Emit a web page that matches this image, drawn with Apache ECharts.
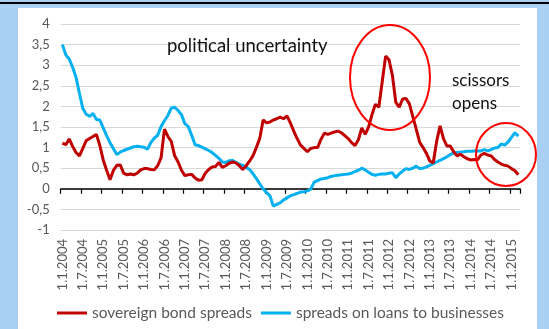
<!DOCTYPE html>
<html>
<head>
<meta charset="utf-8">
<script src="https://cdn.jsdelivr.net/npm/echarts@6/dist/echarts.min.js"></script>
<style>
  html, body { margin: 0; padding: 0; background: #a9d0f2; }
  #chart { width: 549px; height: 329px; }
</style>
</head>
<body>
<div id="chart"></div>
<script>
// Monthly observations, January 2004 – March 2015 (percentage points)
const startYear = 2004;
const monthCount = 135;

const sovereignBondSpreads = [
  1.11, 1.07, 1.21, 1.03, 0.88, 0.80, 0.98, 1.17, 1.22, 1.27, 1.32, 1.05,
  0.70, 0.45, 0.22, 0.45, 0.57, 0.58, 0.38, 0.34, 0.36, 0.34, 0.38, 0.46,
  0.49, 0.49, 0.47, 0.46, 0.56, 0.75, 1.45, 1.27, 1.15, 0.80, 0.65, 0.45,
  0.32, 0.34, 0.35, 0.26, 0.21, 0.22, 0.38, 0.47, 0.53, 0.54, 0.64, 0.52,
  0.56, 0.62, 0.65, 0.63, 0.56, 0.47, 0.56, 0.67, 0.80, 1.00, 1.22, 1.67,
  1.60, 1.62, 1.67, 1.70, 1.74, 1.70, 1.77, 1.60, 1.40, 1.22, 1.06, 0.98,
  0.90, 0.98, 1.00, 1.00, 1.20, 1.35, 1.32, 1.35, 1.38, 1.40, 1.36, 1.29,
  1.22, 1.12, 1.05, 1.19, 1.48, 1.32, 1.50, 1.80, 2.05, 1.98, 2.60, 3.22,
  3.13, 2.75, 2.10, 1.98, 2.18, 2.19, 2.06, 1.75, 1.45, 1.13, 1.00, 0.86,
  0.67, 0.63, 1.15, 1.53, 1.22, 1.04, 1.04, 0.90, 0.80, 0.84, 0.78, 0.73,
  0.70, 0.71, 0.70, 0.82, 0.86, 0.82, 0.80, 0.71, 0.65, 0.60, 0.57, 0.55,
  0.49, 0.44, 0.34
];

const businessLoanSpreads = [
  3.50, 3.25, 3.15, 2.95, 2.71, 2.32, 1.95, 1.81, 1.76, 1.83, 1.68, 1.67,
  1.48, 1.29, 1.12, 0.97, 0.83, 0.89, 0.93, 0.96, 0.99, 1.02, 1.03, 1.02,
  1.01, 0.96, 1.12, 1.23, 1.30, 1.51, 1.65, 1.78, 1.96, 1.98, 1.90, 1.80,
  1.58, 1.51, 1.30, 1.07, 1.05, 1.01, 0.97, 0.93, 0.88, 0.81, 0.74, 0.65,
  0.64, 0.68, 0.69, 0.64, 0.60, 0.57, 0.52, 0.47, 0.37, 0.25, 0.12, 0.00,
  -0.09, -0.17, -0.42, -0.38, -0.34, -0.27, -0.22, -0.17, -0.14, -0.11, -0.08, -0.07,
  -0.05, -0.01, 0.16, 0.20, 0.24, 0.25, 0.27, 0.30, 0.32, 0.33, 0.34, 0.35,
  0.36, 0.38, 0.42, 0.45, 0.50, 0.46, 0.40, 0.35, 0.33, 0.35, 0.36, 0.36,
  0.38, 0.39, 0.27, 0.36, 0.43, 0.49, 0.47, 0.50, 0.55, 0.49, 0.50, 0.53,
  0.57, 0.61, 0.65, 0.69, 0.73, 0.78, 0.83, 0.87, 0.88, 0.89, 0.90, 0.91,
  0.91, 0.92, 0.92, 0.92, 0.95, 0.92, 0.95, 0.99, 1.00, 1.09, 1.06, 1.14,
  1.25, 1.36, 1.28
];

const seriesNames = ['sovereign bond spreads', 'spreads on loans to businesses'];
const seriesColors = ['#c00000', '#00b0f0'];

// Category labels of the form day.month.year, one per month
const months = [];
for (let i = 0; i < monthCount; i++) {
  const y = startYear + Math.floor(i / 12);
  const m = (i % 12) + 1;
  months.push('1.' + m + '.' + y);
}

const yMin = -1, yMax = 4, yStep = 0.5;

const chart = echarts.init(document.getElementById('chart'), null, { renderer: 'canvas' });

const labelFont = 'Lato, "Noto Sans", sans-serif';

chart.setOption({
  animation: false,
  backgroundColor: '#a9d0f2',
  textStyle: { fontFamily: labelFont },
  graphic: [
    { type: 'rect', z: -10, shape: { x: 0, y: 2, width: 549, height: 2 }, style: { fill: '#000' } },
    { type: 'rect', z: -10, shape: { x: 18, y: 8, width: 519, height: 330 }, style: { fill: '#ffffff' } },
    { type: 'text', left: 167, top: 37, z: 10,
      style: { text: 'political uncertainty', fill: '#111', font: '18.5px ' + labelFont } },
    { type: 'text', left: 452, top: 72, z: 10,
      style: { text: 'scissors', fill: '#111', font: '17px ' + labelFont } },
    { type: 'text', left: 452, top: 95, z: 10,
      style: { text: 'opens', fill: '#111', font: '17px ' + labelFont } },
    { type: 'ellipse', z: 10, shape: { cx: 390, cy: 77.5, rx: 40, ry: 52.5 },
      style: { fill: 'none', stroke: '#ff0000', lineWidth: 2 } },
    { type: 'ellipse', z: 10, shape: { cx: 506, cy: 154.5, rx: 30, ry: 31.5 },
      style: { fill: 'none', stroke: '#ff0000', lineWidth: 2 } }
  ],
  grid: { left: 60.7, right: 29, top: 24, bottom: 99, containLabel: false },
  legend: {
    data: seriesNames,
    left: 52,
    top: 300,
    icon: 'rect',
    itemWidth: 30,
    itemHeight: 3,
    itemGap: 9,
    textStyle: { color: '#595959', fontSize: 15.5, fontFamily: labelFont }
  },
  xAxis: [
    {
      type: 'category',
      data: months,
      boundaryGap: true,
      axisLine: { onZero: true, lineStyle: { color: '#000', width: 1.5 } },
      axisTick: { show: true, interval: 5, length: 5, lineStyle: { color: '#000', width: 1.2 } },
      axisLabel: { show: false },
      splitLine: { show: false }
    },
    {
      type: 'category',
      data: months,
      boundaryGap: true,
      position: 'bottom',
      axisLine: { show: false, onZero: false },
      axisTick: { show: false },
      axisLabel: {
        interval: 5,
        rotate: 90,
        margin: 9,
        color: '#595959',
        fontSize: 13,
        fontFamily: labelFont
      },
      splitLine: { show: false }
    }
  ],
  yAxis: {
    type: 'value',
    min: yMin,
    max: yMax,
    interval: yStep,
    axisLine: { show: false },
    axisTick: { show: false },
    axisLabel: {
      color: '#595959',
      fontSize: 13,
      margin: 11,
      fontFamily: labelFont,
      formatter: v => String(v).replace('.', ',')
    },
    splitLine: { lineStyle: { color: '#d9d9d9', width: 1 } }
  },
  series: [
    {
      name: seriesNames[0],
      type: 'line',
      xAxisIndex: 0,
      data: sovereignBondSpreads,
      showSymbol: false,
      symbol: 'none',
      color: seriesColors[0],
      lineStyle: { color: seriesColors[0], width: 3 },
      z: 3
    },
    {
      name: seriesNames[1],
      type: 'line',
      xAxisIndex: 0,
      data: businessLoanSpreads,
      showSymbol: false,
      symbol: 'none',
      color: seriesColors[1],
      lineStyle: { color: seriesColors[1], width: 3 },
      z: 2
    }
  ]
});
</script>
</body>
</html>
